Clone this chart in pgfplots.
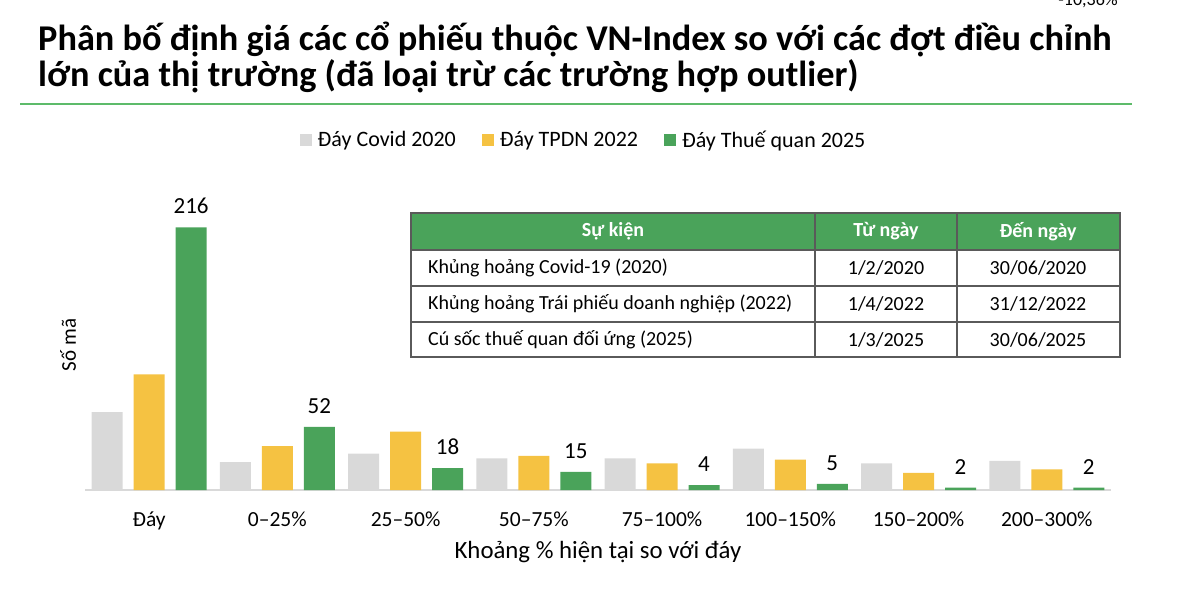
\documentclass[border=0pt]{standalone}
\usepackage{fontspec}
\setmainfont{Carlito}
\usepackage{pgfplots}
\pgfplotsset{compat=1.18}
\definecolor{cgrey}{HTML}{D9D9D9}
\definecolor{cyel}{HTML}{F5C242}
\definecolor{cgreen}{HTML}{4AA35A}
\definecolor{cline}{HTML}{5DBB6A}
\definecolor{tabline}{HTML}{5A5A5A}
\begin{document}
\begin{tikzpicture}[x=1pt,y=1pt]
\useasboundingbox (0,0) rectangle (1200,592);
\begin{scope}
\clip (0,0) rectangle (1200,592);
\node[anchor=base east, inner sep=0, font=\fontsize{18}{20}\selectfont] at (1118,586) {-10,36\%};
\end{scope}
% title
\node[anchor=base west, inner sep=0, font=\fontsize{36.3}{40}\selectfont\bfseries] at (38,541) {Phân bố định giá các cổ phiếu thuộc VN-Index so với các đợt điều chỉnh};
\node[anchor=base west, inner sep=0, font=\fontsize{36.3}{40}\selectfont\bfseries] at (38,505) {lớn của thị trường (đã loại trừ các trường hợp outlier)};
\draw[cline, line width=2.5] (20,488) -- (1132,488);
% table
\fill[cgreen] (411,342) rectangle (1120,379);
\draw[tabline, line width=1.2] (411,235) rectangle (1120,379);
\draw[tabline, line width=1.2] (411,342) -- (1120,342) (411,306) -- (1120,306) (411,270) -- (1120,270);
\draw[tabline, line width=1.2] (815,235) -- (815,379) (957,235) -- (957,379);
\begin{scope}[every node/.style={font=\fontsize{20}{23}\selectfont, inner sep=0}]
\node[white, font=\fontsize{20}{23}\selectfont\bfseries] at (613,360.5) {Sự kiện};
\node[white, font=\fontsize{20}{23}\selectfont\bfseries] at (886,360.5) {Từ ngày};
\node[white, font=\fontsize{20}{23}\selectfont\bfseries] at (1038,360.5) {Đến ngày};
\node[anchor=west] at (428,324) {Khủng hoảng Covid-19 (2020)};
\node[anchor=west] at (428,288) {Khủng hoảng Trái phiếu doanh nghiệp (2022)};
\node[anchor=west] at (428,252) {Cú sốc thuế quan đối ứng (2025)};
\node at (886,324) {1/2/2020};
\node at (886,288) {1/4/2022};
\node at (886,252) {1/3/2025};
\node at (1038,324) {30/06/2020};
\node at (1038,288) {31/12/2022};
\node at (1038,252) {30/06/2025};
\end{scope}
\begin{axis}[
  at={(85pt,102pt)}, anchor=south west,
  scale only axis, width=1026pt, height=291.8pt,
  xmin=-0.5, xmax=7.5, ymin=0, ymax=240,
  axis x line*=bottom, axis y line*=left,
  x axis line style={cgrey, line width=2pt, -},
  y axis line style={draw=none},
  ytick=\empty,
  xtick={0,...,7},
  xticklabels={Đáy, 0–25\%, 25–50\%, 50–75\%, 75–100\%, 100–150\%, 150–200\%, 200–300\%},
  major tick length=0pt,
  xticklabel style={font=\fontsize{21.5}{24}\selectfont, yshift=-18pt},
  ybar=11pt, bar width=31pt,
  /pgf/number format/assume math mode=true,
  xlabel={Khoảng \% hiện tại so với đáy},
  xlabel style={at={(axis description cs:0.5,-0.2125)}, anchor=center, font=\fontsize{24.8}{28}\selectfont},
  ylabel={Số mã},
  ylabel style={at={(axis description cs:-0.0166,0.497)}, anchor=center, font=\fontsize{21}{24}\selectfont},
  legend style={at={(0.486,1.2)}, anchor=center, draw=none, fill=none, legend columns=3,
    font=\fontsize{22}{26}\selectfont,
    /tikz/every even column/.append style={column sep=24pt}},
  legend image code/.code={\fill[#1] (0pt,-6pt) rectangle (12pt,6pt); \path (16pt,0pt);},
  clip=false,
]
\addplot[fill=cgrey, draw=none] coordinates {(0,64) (1,23) (2,30) (3,26) (4,26) (5,34) (6,22) (7,24)};
\addplot[fill=cyel, draw=none] coordinates {(0,95) (1,36) (2,48) (3,28) (4,22) (5,25) (6,14) (7,17)};
\addplot[fill=cgreen, draw=none, nodes near coords,
  nodes near coords style={black, font=\fontsize{23}{26}\selectfont, anchor=south, yshift=10pt}]
  coordinates {(0,216) (1,52) (2,18) (3,15) (4,4) (5,5) (6,2) (7,2)};
\legend{Đáy Covid 2020, Đáy TPDN 2022, Đáy Thuế quan 2025}
\end{axis}
\end{tikzpicture}
\end{document}
